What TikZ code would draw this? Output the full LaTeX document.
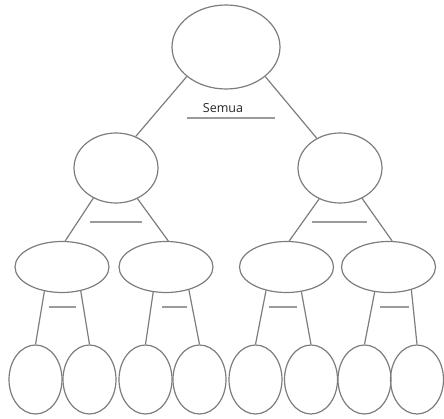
\documentclass[tikz,border=0pt]{standalone}
\usepackage{fontspec}
\setmainfont{Open Sans}
\usetikzlibrary{shapes.geometric}
\definecolor{edge}{RGB}{125,125,125}
\definecolor{rule}{RGB}{155,155,155}
\tikzset{
  oval/.style={ellipse, draw=edge, line width=1.2pt, inner sep=0pt},
  topoval/.style={oval, minimum width=108pt, minimum height=84pt},
  midoval/.style={oval, minimum width=84pt, minimum height=70pt},
  lowoval/.style={oval, minimum width=94pt, minimum height=51pt},
  leafoval/.style={oval, minimum width=53pt, minimum height=69pt},
  link/.style={draw=edge, line width=1.2pt},
  blank/.style={draw=rule, line width=1.3pt},
}
\begin{document}
\begin{tikzpicture}[x=1pt,y=-1pt]
\useasboundingbox (0,0) rectangle (444,419);
% top
\node[topoval] (t) at (226,47) {};
% middle
\node[midoval] (ml) at (116,168) {};
\node[midoval] (mr) at (340,168) {};
% third level
\node[lowoval] (a) at (62,267) {};
\node[lowoval] (b) at (166,267) {};
\node[lowoval] (c) at (286.5,267) {};
\node[lowoval] (d) at (388.5,267) {};
% leaves
\node[leafoval] (a1) at (35.5,379.5) {};
\node[leafoval] (a2) at (89.5,379.5) {};
\node[leafoval] (b1) at (145.5,379.5) {};
\node[leafoval] (b2) at (199.5,379.5) {};
\node[leafoval] (c1) at (255.5,379.5) {};
\node[leafoval] (c2) at (311,379.5) {};
\node[leafoval] (d1) at (364.5,379.5) {};
\node[leafoval] (d2) at (417,379.5) {};
% label
\node[font=\fontsize{12.5}{14}\selectfont, text=black!85] (lbl) at (223,108) {Semua};
% connectors
\draw[link] (t.217) -- (ml.58);
\draw[link] (t.323) -- (mr.128);
\draw[link] (ml.233) -- (a.83);
\draw[link] (ml.305) -- (b.85);
\draw[link] (mr.236) -- (c.84);
\draw[link] (mr.306) -- (d.82);
\draw[link] (a.234) -- (a1.north);
\draw[link] (a.308) -- (a2.north);
\draw[link] (b.243) -- (b1.north);
\draw[link] (b.315) -- (b2.north);
\draw[link] (c.229) -- (c1.north);
\draw[link] (c.301) -- (c2.north);
\draw[link] (d.241) -- (d1.north);
\draw[link] (d.315) -- (d2.north);
% blank lines
\draw[blank] (187,118) -- (275,118);
\draw[blank] (90,222) -- (142,222);
\draw[blank] (312,222) -- (367,222);
\draw[blank] (49,307) -- (76,307);
\draw[blank] (162,307) -- (187,307);
\draw[blank] (269,307) -- (297,307);
\draw[blank] (380,307) -- (409,307);
\end{tikzpicture}
\end{document}
